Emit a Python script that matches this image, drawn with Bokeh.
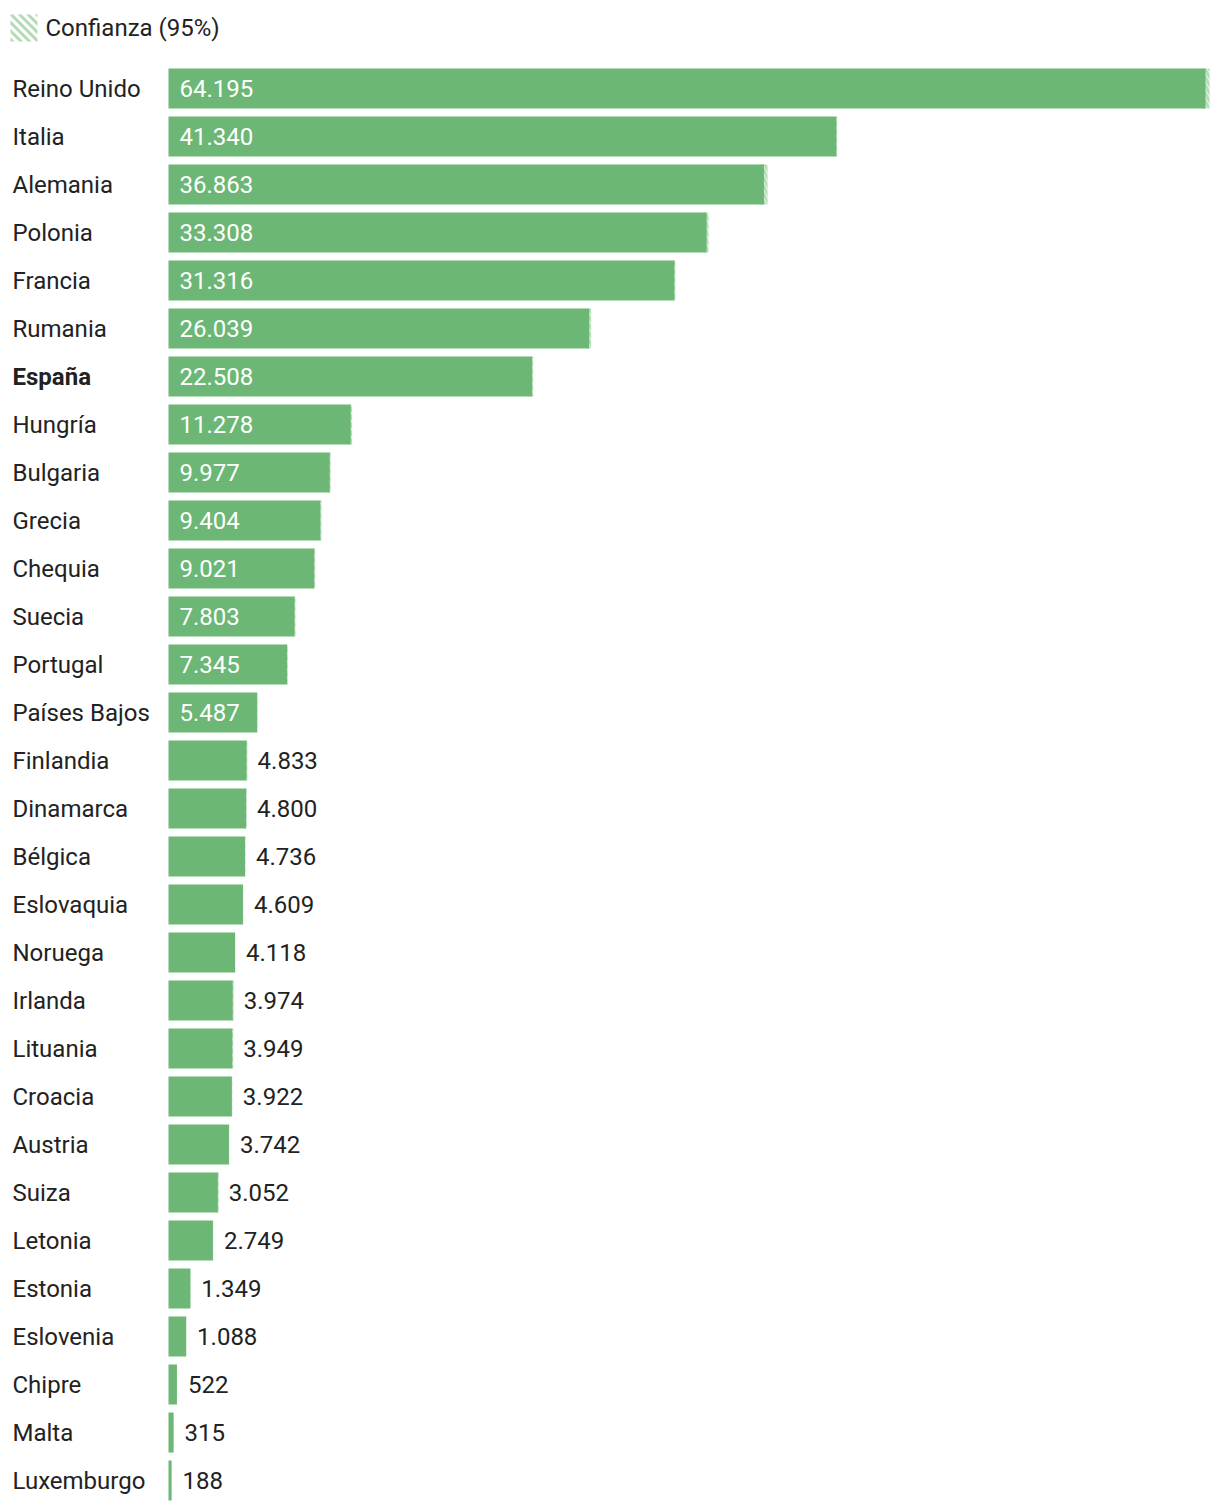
from bokeh.plotting import figure
from bokeh.models import Range1d
from bokeh.embed import file_html
from bokeh.resources import INLINE
from bokeh.core.properties import value

countries = ["Reino Unido", "Italia", "Alemania", "Polonia", "Francia", "Rumania", "España",
             "Hungría", "Bulgaria", "Grecia", "Chequia", "Suecia", "Portugal", "Países Bajos",
             "Finlandia", "Dinamarca", "Bélgica", "Eslovaquia", "Noruega", "Irlanda", "Lituania",
             "Croacia", "Austria", "Suiza", "Letonia", "Estonia", "Eslovenia", "Chipre", "Malta",
             "Luxemburgo"]
values = [64195, 41340, 36863, 33308, 31316, 26039, 22508, 11278, 9977, 9404, 9021, 7803,
          7345, 5487, 4833, 4800, 4736, 4609, 4118, 3974, 3949, 3922, 3742, 3052, 2749, 1349,
          1088, 522, 315, 188]
ci_upper = [64445, 41390, 37083, 33428, 31376, 26159, 22578, 11368, 10037, 9464, 9081, 7863,
            7375, 5507, 4883, 4850, 4766, 4629, 4138, 4034, 4009, 3952, 3762, 3112, 2769, 1369,
            1108, 532, 325, 198]
ci_lower = [63945, 41290, 36643, 33188, 31256, 25919, 22438, 11188, 9917, 9344, 8961, 7743,
            7315, 5467, 4783, 4750, 4706, 4589, 4098, 3914, 3889, 3892, 3722, 2992, 2729, 1329,
            1068, 512, 305, 178]
highlight = "España"
legend_label = "Confianza (95%)"

W, H = 1212, 1504
LEFT = 168          # px where bars start
MAXPX = 1205        # px where the largest bar ends
scale = (MAXPX - LEFT) / max(values)
x0 = -LEFT / scale
x1 = (W - LEFT) / scale

def px(xp):
    return x0 + xp / scale

ROW0, PITCH, BARH = 88, 48, 40
ys = [ROW0 + i * PITCH for i in range(len(countries))]

GREEN = "#6cb775"
HATCH = "#b3dcb6"
DARK = "#222222"
FONT = value("Roboto")
FS = "24px"

p = figure(width=W, height=H, x_range=Range1d(x0, x1), y_range=Range1d(H, 0),
           output_backend="svg", toolbar_location=None, min_border=0)
p.axis.visible = False
p.grid.visible = False
p.outline_line_color = None
p.background_fill_color = "white"

# confidence intervals (hatched), under bars
p.hbar(y=ys, height=BARH, left=ci_lower, right=ci_upper, fill_color="white", fill_alpha=0,
       line_color=None, hatch_pattern="left_diagonal_line", hatch_color=HATCH,
       hatch_weight=3, hatch_scale=8)
p.hbar(y=ys, height=BARH, left=0, right=values, fill_color=GREEN, line_color=None)

# country labels
for c, y in zip(countries, ys):
    p.text(x=[x0], y=[y], text=[c], x_offset=12, text_baseline="middle", text_align="left",
           text_font=FONT, text_font_size=FS, text_color=DARK,
           text_font_style="bold" if c == highlight else "normal")

def fmt(v):
    return f"{v:,}".replace(",", ".")

inside_x, inside_y, inside_t = [], [], []
out_x, out_y, out_t = [], [], []
for v, y in zip(values, ys):
    if v >= 5000:
        inside_x.append(0); inside_y.append(y); inside_t.append(fmt(v))
    else:
        out_x.append(v); out_y.append(y); out_t.append(fmt(v))

p.text(x=inside_x, y=inside_y, text=inside_t, x_offset=11, text_baseline="middle",
       text_font=FONT, text_font_size=FS, text_color="white")
p.text(x=out_x, y=out_y, text=out_t, x_offset=11, text_baseline="middle",
       text_font=FONT, text_font_size=FS, text_color=DARK)

# legend icon: diagonal stripes clipped to a square (pixel geometry)
def clip(poly, inside, inter):
    out = []
    for i in range(len(poly)):
        a, b = poly[i - 1], poly[i]
        ia, ib = inside(a), inside(b)
        if ib:
            if not ia:
                out.append(inter(a, b))
            out.append(b)
        elif ia:
            out.append(inter(a, b))
    return out

def clip_box(poly, L, R, T, B):
    def mk(axis, val, keep_ge):
        def inside(pt):
            return pt[axis] >= val if keep_ge else pt[axis] <= val
        def inter(a, b):
            t = (val - a[axis]) / (b[axis] - a[axis])
            return (a[0] + t * (b[0] - a[0]), a[1] + t * (b[1] - a[1]))
        return inside, inter
    for axis, val, ge in [(0, L, True), (0, R, False), (1, T, True), (1, B, False)]:
        if not poly:
            break
        poly = clip(poly, *mk(axis, val, ge))
    return poly

L, R, T, B = 10, 37, 14, 41
PERIOD, STRIPE = 8.5, 4.2
xs_list, ys_list = [], []
c = -(B - T) - PERIOD
while c < (R - L) + PERIOD:
    # band where c <= (x-L) - (y-T) <= c+STRIPE ("\" stripes)
    big = 100
    poly = [(L + c - big, T - big), (L + c + STRIPE - big, T - big),
            (L + c + STRIPE + big, T + big), (L + c + big, T + big)]
    poly = clip_box(poly, L, R, T, B)
    if len(poly) >= 3:
        xs_list.append([px(q[0]) for q in poly])
        ys_list.append([q[1] for q in poly])
    c += PERIOD
p.patches(xs=xs_list, ys=ys_list, fill_color=HATCH, line_color=None)

p.text(x=[px(45)], y=[27], text=[legend_label], text_baseline="middle", text_font=FONT,
       text_font_size=FS, text_color=DARK)

open("out.html", "w").write(file_html(p, INLINE))
